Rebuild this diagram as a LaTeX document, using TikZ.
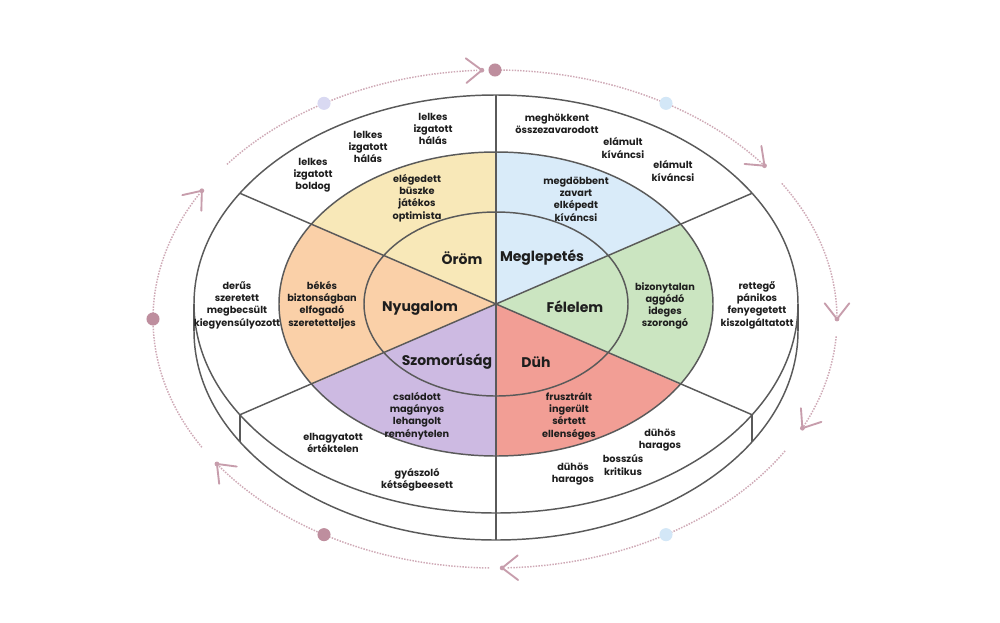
\documentclass[tikz,border=0pt]{standalone}
\usepackage{fontspec}
\setmainfont{Poppins}
\usetikzlibrary{calc}
\definecolor{cyel}{HTML}{F8E8B8}
\definecolor{cblu}{HTML}{D9EBF9}
\definecolor{cgrn}{HTML}{CBE5C1}
\definecolor{cred}{HTML}{F29E95}
\definecolor{cpur}{HTML}{CDBAE2}
\definecolor{corg}{HTML}{FAD0A8}
\definecolor{lc}{HTML}{5A5A5A}
\definecolor{tc}{HTML}{1E1E1E}
\definecolor{cycc}{HTML}{CFA9B6}
\definecolor{chevc}{HTML}{C79DAC}
\definecolor{bmar}{HTML}{BE8E9E}
\definecolor{blav}{HTML}{D9D9F2}
\definecolor{bblu}{HTML}{D3E7F7}
\tikzset{
  seg/.style={draw=lc, line width=1.1pt},
  lbl/.style={align=center, font=\fontsize{7.3}{9.2}\selectfont\bfseries, text=tc, inner sep=0pt},
  mainlbl/.style={font=\fontsize{10.5}{12}\selectfont\bfseries, text=tc, inner sep=0pt},
  cyc/.style={draw=cycc, line width=1.1pt, densely dotted},
  chev/.style={draw=chevc, line width=1.4pt, line cap=round, line join=round},
  bead/.style={circle, inner sep=0pt, minimum size=9.8pt}
}
\begin{document}
\begin{tikzpicture}[x=0.75pt,y=0.75pt]
\useasboundingbox (0,0) rectangle (1000,-622);
\fill[white] (0,0) rectangle (1000,-622);
\coordinate (C) at (496,-304);
\coordinate (Cb) at (496,-331);
\coordinate (D) at (495,-319);
% sectors
\foreach \a/\b/\col in {90/148/cyel, 32/90/cblu, -32/32/cgrn, -90/-32/cred, 212/270/cpur, 148/212/corg}{
  \fill[\col] (C) -- ($(C)+(\a:162.75pt and 114pt)$) arc[start angle=\a, end angle=\b, x radius=162.75pt, y radius=114pt] -- cycle;
}
% lower rim of the disc
\draw[seg] ($(Cb)+(180:226.5pt and 156.75pt)$) arc[start angle=180, end angle=360, x radius=226.5pt, y radius=156.75pt];
\draw[seg] ($(C)+(180:226.5pt and 156.75pt)$) -- ($(Cb)+(180:226.5pt and 156.75pt)$);
\draw[seg] ($(C)+(0:226.5pt and 156.75pt)$) -- ($(Cb)+(0:226.5pt and 156.75pt)$);
\foreach \a in {212,270,328}{
  \draw[seg] ($(C)+(\a:226.5pt and 156.75pt)$) -- ($(Cb)+(\a:226.5pt and 156.75pt)$);
}
% ellipses
\draw[seg] (C) ellipse [x radius=226.5pt, y radius=156.75pt];
\draw[seg] (C) ellipse [x radius=162.75pt, y radius=114pt];
\draw[seg] (C) ellipse [x radius=99pt, y radius=69pt];
% dividers
\foreach \a in {32,90,148,212,270,328}{
  \draw[seg] (C) -- ($(C)+(\a:226.5pt and 156.75pt)$);
}
% cycle arcs
\foreach \s/\e in {141.6/93, 90/38.5, 33/0.8, -4/-25.5, -32/-88, -91/-143.8, -149/-210.4}{
  \draw[cyc] ($(D)+(\s:256.5pt and 186.75pt)$) arc[start angle=\s, end angle=\e, x radius=256.5pt, y radius=186.75pt];
}
\foreach \t/\b [count=\i] in {92.2/1.6, 38/-42.97, 0/-90, -26/-123.8, -88.8/180.9, 215.6/134.5, 149/50.5}{
  \coordinate (k\i) at ($(D)+(\t:256.5pt and 186.75pt)$);
  \draw[chev] ($(k\i)+({\b+142}:15pt)$) -- (k\i) -- ($(k\i)+({\b-142}:15pt)$);
  \fill[chevc] (k\i) circle (1.8pt);
}
% beads
\node[bead, fill=blav] (b1) at ($(D)+(120:256.5pt and 186.75pt)$) {};
\node[bead, fill=bmar] (b2) at ($(D)+(90:256.5pt and 186.75pt)$) {};
\node[bead, fill=bblu] (b3) at ($(D)+(60:256.5pt and 186.75pt)$) {};
\node[bead, fill=bblu] (b4) at ($(D)+(-60:256.5pt and 186.75pt)$) {};
\node[bead, fill=bmar] (b5) at ($(D)+(240:256.5pt and 186.75pt)$) {};
\node[bead, fill=bmar] (b6) at ($(D)+(180:256.5pt and 186.75pt)$) {};
% main labels
\node[mainlbl] (oro) at (462,-258) {Öröm};
\node[mainlbl] (meg) at (542,-258) {Meglepetés};
\node[mainlbl] (nyu) at (420,-308) {Nyugalom};
\node[mainlbl] (fel) at (575,-307) {Félelem};
\node[mainlbl] (szo) at (447,-362) {Szomorúság};
\node[mainlbl] (duh) at (536,-362) {Düh};
% word groups
\node[lbl] (tA) at (313,-175) {lelkes\\izgatott\\boldog};
\node[lbl] (tB) at (368,-147) {lelkes\\izgatott\\hálás};
\node[lbl] (tC) at (433,-129) {lelkes\\izgatott\\hálás};
\node[lbl] (tD) at (417,-198) {elégedett\\büszke\\játékos\\optimista};
\node[lbl] (tE) at (557,-124) {meghökkent\\összezavarodott};
\node[lbl] (tF) at (623,-148) {elámult\\kíváncsi};
\node[lbl] (tG) at (673,-171) {elámult\\kíváncsi};
\node[lbl] (tH) at (576,-199) {megdöbbent\\zavart\\elképedt\\kíváncsi};
\node[lbl] (tI) at (237,-305) {derűs\\szeretett\\megbecsült\\kiegyensúlyozott};
\node[lbl] (tJ) at (322,-305) {békés\\biztonságban\\elfogadó\\szeretetteljes};
\node[lbl] (tK) at (665,-306) {bizonytalan\\aggódó\\ideges\\szorongó};
\node[lbl] (tL) at (757,-305) {rettegő\\pánikos\\fenyegetett\\kiszolgáltatott};
\node[lbl] (tM) at (417,-416) {csalódott\\magányos\\lehangolt\\reménytelen};
\node[lbl] (tN) at (333,-443) {elhagyatott\\értéktelen};
\node[lbl] (tO) at (417,-480) {gyászoló\\kétségbeesett};
\node[lbl] (tP) at (569,-416) {frusztrált\\ingerült\\sértett\\ellenséges};
\node[lbl] (tQ) at (660,-440) {dühös\\haragos};
\node[lbl] (tR) at (623,-465) {bosszús\\kritikus};
\node[lbl] (tS) at (573,-474) {dühös\\haragos};
\end{tikzpicture}
\end{document}
